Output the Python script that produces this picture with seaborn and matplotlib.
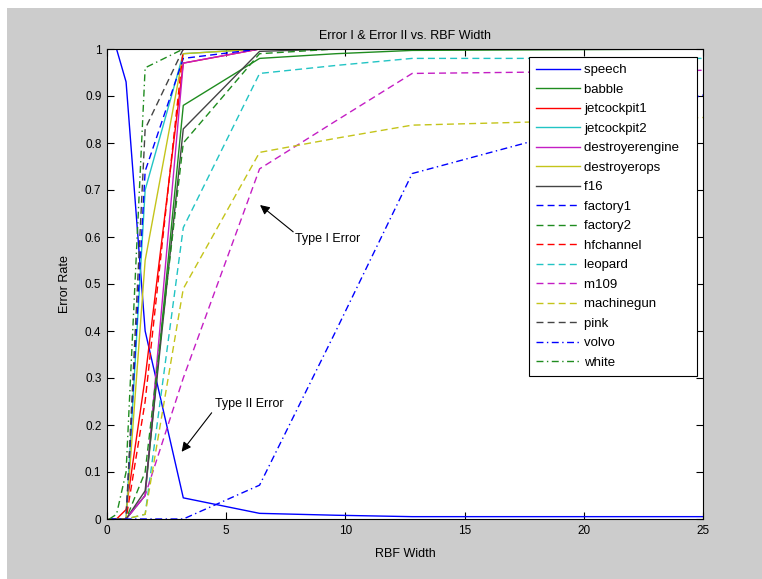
import numpy as np
import pandas as pd
import matplotlib
matplotlib.use("Agg")
import matplotlib.pyplot as plt
from matplotlib.patches import Rectangle
import seaborn as sns

# ---------------- data ----------------
rbf_width = [0.1, 0.4, 0.8, 1.6, 3.2, 6.4, 9.6, 12.8, 25.6]

series_names = ["speech", "babble", "jetcockpit1", "jetcockpit2", "destroyerengine",
                "destroyerops", "f16", "factory1", "factory2", "hfchannel", "leopard",
                "m109", "machinegun", "pink", "volvo", "white"]

speech          = [1.0, 1.0, 0.93, 0.40, 0.045, 0.012, 0.008, 0.005, 0.005]
babble          = [0.0, 0.0, 0.0, 0.05, 0.88, 0.98, 0.99, 0.997, 1.0]
jetcockpit1     = [0.0, 0.0, 0.02, 0.30, 0.97, 1.0, 1.0, 1.0, 1.0]
jetcockpit2     = [0.0, 0.0, 0.0, 0.70, 0.99, 1.0, 1.0, 1.0, 1.0]
destroyerengine = [0.0, 0.0, 0.0, 0.05, 0.97, 1.0, 1.0, 1.0, 1.0]
destroyerops    = [0.0, 0.0, 0.0, 0.55, 0.99, 1.0, 1.0, 1.0, 1.0]
f16             = [0.0, 0.0, 0.0, 0.06, 0.83, 0.995, 1.0, 1.0, 1.0]
factory1        = [0.0, 0.0, 0.0, 0.74, 0.98, 1.0, 1.0, 1.0, 1.0]
factory2        = [0.0, 0.0, 0.0, 0.10, 0.80, 0.99, 1.0, 1.0, 1.0]
hfchannel       = [0.0, 0.0, 0.0, 0.25, 1.0, 1.0, 1.0, 1.0, 1.0]
leopard         = [0.0, 0.0, 0.0, 0.01, 0.62, 0.948, 0.965, 0.98, 0.98]
m109            = [0.0, 0.0, 0.0, 0.05, 0.30, 0.745, 0.847, 0.948, 0.955]
machinegun      = [0.0, 0.0, 0.0, 0.01, 0.49, 0.78, 0.81, 0.838, 0.855]
pink            = [0.0, 0.0, 0.0, 0.83, 1.0, 1.0, 1.0, 1.0, 1.0]
volvo           = [0.0, 0.0, 0.0, 0.0, 0.0, 0.072, 0.40, 0.735, 0.91]
white           = [0.0, 0.01, 0.10, 0.96, 1.0, 1.0, 1.0, 1.0, 1.0]

series_values = [speech, babble, jetcockpit1, jetcockpit2, destroyerengine, destroyerops,
                 f16, factory1, factory2, hfchannel, leopard, m109, machinegun, pink,
                 volvo, white]

x_ticks = [0, 5, 10, 15, 20, 25]
y_ticks = [0, 0.1, 0.2, 0.3, 0.4, 0.5, 0.6, 0.7, 0.8, 0.9, 1.0]
y_tick_labels = ["0", "0.1", "0.2", "0.3", "0.4", "0.5", "0.6", "0.7", "0.8", "0.9", "1"]

# ---------------- styles ----------------
BLUE, GREEN, RED, CYAN = "#0000ff", "#1f8c1f", "#ff0000", "#22c4c4"
MAG, YEL, GRAY = "#c41ec4", "#c4c41a", "#444444"
color_cycle = [BLUE, GREEN, RED, CYAN, MAG, YEL, GRAY]
palette = {}
dashes = {}
for i, name in enumerate(series_names):
    palette[name] = color_cycle[i % 7]
    if i < 7:
        dashes[name] = ""
    elif i < 14:
        dashes[name] = (5, 3)
    else:
        dashes[name] = (5, 2.5, 1, 2.5)

df = pd.concat([pd.DataFrame({"x": rbf_width, "y": v, "series": n})
                for n, v in zip(series_names, series_values)], ignore_index=True)

plt.rcParams["font.family"] = ["Liberation Sans", "DejaVu Sans"]

fig = plt.figure(figsize=(7.62, 5.79), dpi=100)
fig.patch.set_facecolor("white")
fig.add_artist(Rectangle((7 / 762, 0), 1 - 7 / 762, 1 - 8 / 579, transform=fig.transFigure,
                         facecolor="#cccccc", edgecolor="none", zorder=-10))
ax = fig.add_axes([107 / 762, 60 / 579, 596 / 762, 470 / 579])
ax.set_facecolor("white")

sns.lineplot(data=df, x="x", y="y", hue="series", style="series",
             hue_order=series_names, style_order=series_names,
             palette=palette, dashes=dashes, estimator=None, sort=False,
             legend=False, linewidth=1.0, ax=ax)

ax.set_xlim(0, 25)
ax.set_ylim(0, 1)
ax.set_xticks(x_ticks)
ax.set_xticklabels([str(t) for t in x_ticks])
ax.set_yticks(y_ticks)
ax.set_yticklabels(y_tick_labels)
ax.tick_params(direction="in", top=True, right=True, length=5, width=0.8,
               labelsize=8.5, colors="black", pad=4)
for s in ax.spines.values():
    s.set_color("black")
    s.set_linewidth(0.8)

ax.set_title("Error I & Error II vs. RBF Width", fontsize=9, pad=7)
ax.set_xlabel("RBF Width", fontsize=9, labelpad=8)
ax.set_ylabel("Error Rate", fontsize=9, labelpad=10)

handles = ax.get_lines()[:len(series_names)]
leg = ax.legend(handles, series_names, loc="upper right", bbox_to_anchor=(0.99, 0.983),
                borderaxespad=0, fancybox=False, framealpha=1, edgecolor="black",
                fontsize=9.5, handlelength=3.3, handletextpad=0.3, labelspacing=0.55,
                borderpad=0.55)
leg.get_frame().set_linewidth(0.8)
for t in leg.get_texts():
    t.set_text(t.get_text() + "   ")

arrow = dict(arrowstyle="-|>", color="black", lw=0.8, mutation_scale=14,
             shrinkA=0, shrinkB=0)
ax.annotate("", xy=(6.42, 0.668), xytext=(7.81, 0.611), arrowprops=arrow)
ax.text(7.89, 0.596, "Type I Error", fontsize=9, ha="left", va="center")
ax.annotate("", xy=(3.13, 0.143), xytext=(4.39, 0.226), arrowprops=arrow)
ax.text(4.53, 0.245, "Type II Error", fontsize=9, ha="left", va="center")

fig.savefig("out.png", dpi=100, facecolor=fig.get_facecolor())
